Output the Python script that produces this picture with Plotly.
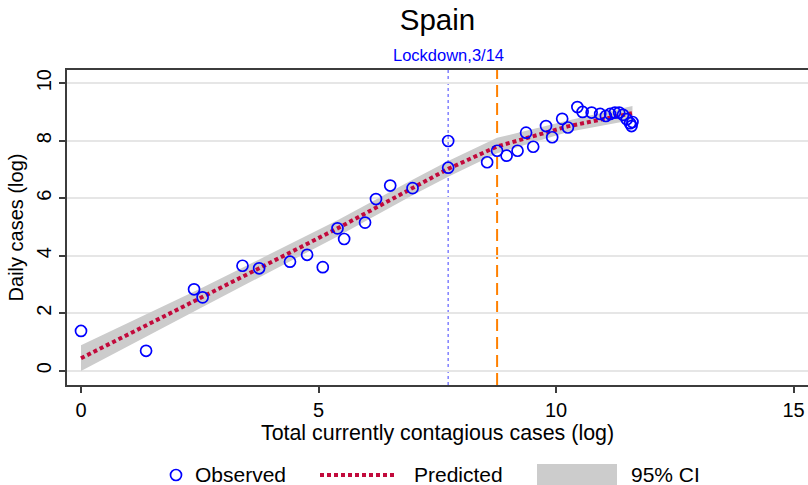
import plotly.graph_objects as go

# Observed daily cases vs. total currently contagious cases (both natural log)
obs_x = [0.00, 1.37, 2.38, 2.56, 3.40, 3.75, 4.40, 4.76, 5.09, 5.40,
         5.54, 5.98, 6.21, 6.51, 6.98, 7.73, 7.73, 8.55, 8.76, 8.96,
         9.19, 9.37, 9.52, 9.79, 9.92, 10.13, 10.25, 10.45, 10.56, 10.75,
         10.93, 11.05, 11.14, 11.24, 11.33, 11.41, 11.49, 11.56, 11.59, 11.61]
obs_y = [1.38, 0.69, 2.83, 2.55, 3.65, 3.56, 3.79, 4.03, 3.60, 4.95,
         4.58, 5.15, 5.97, 6.44, 6.35, 7.99, 7.06, 7.25, 7.65, 7.48,
         7.65, 8.28, 7.79, 8.51, 8.12, 8.76, 8.46, 9.17, 9.00, 8.98,
         8.93, 8.86, 8.93, 8.98, 8.98, 8.90, 8.75, 8.61, 8.51, 8.65]

# Fitted values and 95% confidence band
pred_x = [0.00, 2.56, 3.75, 5.40, 6.98, 7.73, 8.76, 10.25, 11.61]
pred_y = [0.43, 2.55, 3.56, 4.95, 6.37, 7.02, 7.80, 8.50, 8.96]
ci_lo = [-0.01, 2.21, 3.25, 4.67, 6.10, 6.75, 7.56, 8.30, 8.72]
ci_hi = [0.88, 2.89, 3.87, 5.23, 6.64, 7.29, 8.10, 8.70, 9.21]

# Reference lines
lockdown_x = 7.73
lag_x = 8.76
lockdown_label = "Lockdown,3/14"

x_ticks = [0, 5, 10, 15]
y_ticks = [0, 2, 4, 6, 8, 10]

W, H = 808, 485
ML, MR, MT, MB = 67, 0, 70, 100
PW, PH = W - ML - MR, H - MT - MB

BLUE = "#0000ff"
CRANBERRY = "#c20a3c"
BAND = "#cccccc"
AXIS = "#3c3c3c"
FONT = "Liberation Sans, Arial, sans-serif"


def fx(p):
    return (p - ML) / PW


def fy(p):
    return (H - MB - p) / PH


fig = go.Figure()

fig.add_trace(go.Scatter(
    x=pred_x + pred_x[::-1], y=ci_hi + ci_lo[::-1],
    fill="toself", fillcolor=BAND, line=dict(width=0),
    mode="lines", hoverinfo="skip", showlegend=False))

fig.add_trace(go.Scatter(
    x=pred_x, y=pred_y, mode="lines",
    line=dict(color=CRANBERRY, width=4, dash="4px,3px"),
    showlegend=False))

fig.add_trace(go.Scatter(
    x=obs_x, y=obs_y, mode="markers",
    marker=dict(symbol="circle-open", size=11, color=BLUE,
                line=dict(width=1.7, color=BLUE)),
    showlegend=False))

shapes = [
    dict(type="line", xref="x", yref="paper", x0=lockdown_x, x1=lockdown_x,
         y0=0, y1=1, line=dict(color="#8080ff", width=1.5, dash="dot"),
         layer="below"),
    dict(type="line", xref="x", yref="paper", x0=lag_x, x1=lag_x,
         y0=0, y1=1, line=dict(color="#ff8000", width=2, dash="12px,6px"),
         layer="below"),
]

# Legend row under the x-axis title
LY = 475
shapes += [
    dict(type="circle", xref="paper", yref="paper",
         x0=fx(176 - 5.5), x1=fx(176 + 5.5), y0=fy(LY + 5.5), y1=fy(LY - 5.5),
         line=dict(color=BLUE, width=1.7)),
    dict(type="line", xref="paper", yref="paper",
         x0=fx(320), x1=fx(396), y0=fy(LY), y1=fy(LY),
         line=dict(color=CRANBERRY, width=4, dash="4px,3px")),
    dict(type="rect", xref="paper", yref="paper",
         x0=fx(537), x1=fx(617), y0=fy(464), y1=fy(487),
         fillcolor=BAND, line=dict(width=0)),
]

annotations = [
    dict(x=lockdown_x, xref="x", y=1, yref="paper", yanchor="bottom",
         yshift=4, text=lockdown_label, showarrow=False,
         font=dict(color=BLUE, size=16.5, family=FONT)),
]
for label, left in [("Observed", 193), ("Predicted", 412), ("95% CI", 629)]:
    annotations.append(dict(
        x=fx(left), xref="paper", xanchor="left", y=fy(LY), yref="paper",
        yanchor="middle", text=label, showarrow=False,
        font=dict(color="#000000", size=21, family=FONT)))

fig.update_layout(
    width=W, height=H,
    margin=dict(l=ML, r=MR, t=MT, b=MB, autoexpand=False),
    paper_bgcolor="white", plot_bgcolor="white",
    font=dict(family=FONT, color="#000000"),
    title=dict(text="Spain", x=0.5, xref="paper", y=1 - 20 / H,
               yref="container", yanchor="middle",
               font=dict(size=29.5, family=FONT, color="#000000")),
    showlegend=False,
    shapes=shapes,
    annotations=annotations,
    xaxis=dict(
        range=[(ML - 81) / 47.5, (W - 81) / 47.5],
        tickvals=x_ticks, ticktext=[str(t) for t in x_ticks],
        ticks="outside", ticklen=6, tickwidth=1.5, tickcolor=AXIS,
        showline=True, linecolor=AXIS, linewidth=1.5, mirror=True,
        showgrid=False, zeroline=False,
        tickfont=dict(size=20, family=FONT),
        title=dict(text="Total currently contagious cases (log)",
                   font=dict(size=21.4, family=FONT), standoff=1),
        automargin=False,
    ),
    yaxis=dict(
        range=[-0.50, 10.46],
        tickvals=y_ticks, ticktext=[str(t) for t in y_ticks],
        tickangle=-90,
        ticks="outside", ticklen=6, tickwidth=1.5, tickcolor=AXIS,
        showline=True, linecolor=AXIS, linewidth=1.5,
        showgrid=True, gridcolor="#e6e6e6", gridwidth=1.5, zeroline=False,
        tickfont=dict(size=20, family=FONT),
        title=dict(text="Daily cases (log)",
                   font=dict(size=20, family=FONT), standoff=4),
        automargin=False,
    ),
)

fig.write_html("out.html")
